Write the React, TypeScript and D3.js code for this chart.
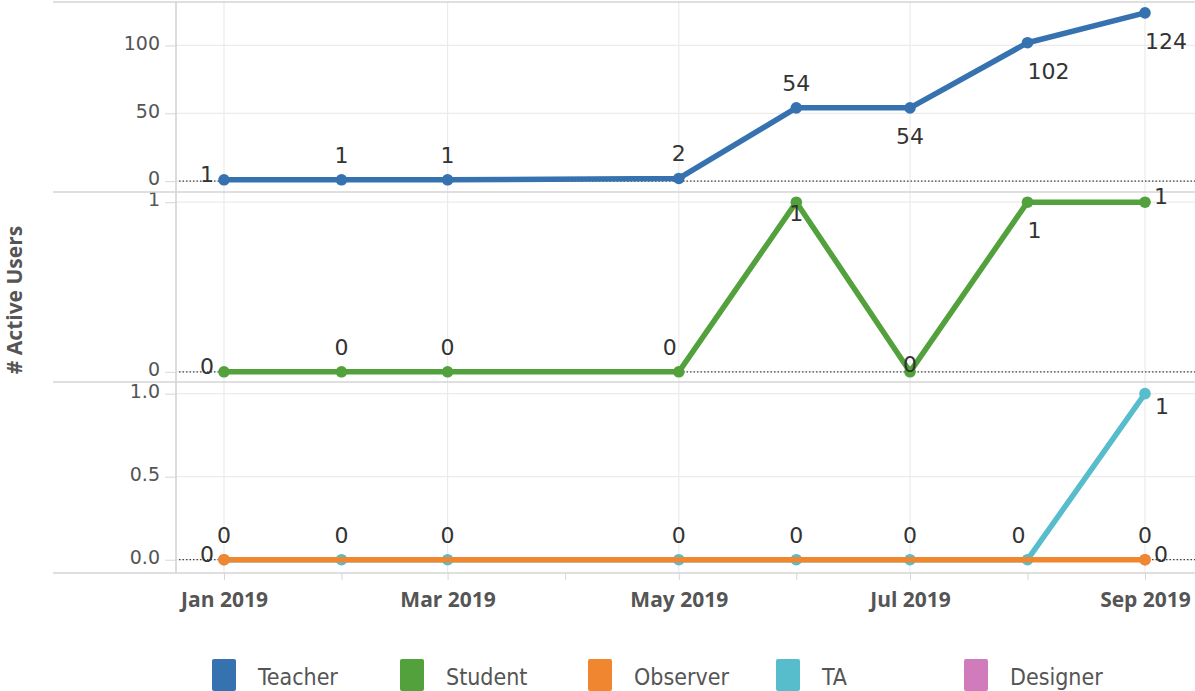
import React from 'react';
import { select, scaleLinear, scaleTime, line, axisLeft, axisBottom, timeMonth, timeFormat } from 'd3';

const months = ['2019-01', '2019-02', '2019-03', '2019-05', '2019-06', '2019-07', '2019-08', '2019-09'];
const teacher = [1, 1, 1, 2, 54, 54, 102, 124];
const student = [0, 0, 0, 0, 1, 0, 1, 1];
const ta = [0, 0, 0, 0, 0, 0, 0, 1];
const observerMonths = ['2019-01', '2019-09'];
const observer = [0, 0];
const designerMonths = ['2019-09'];
const designer = [0];

const roles = ['Teacher', 'Student', 'Observer', 'TA', 'Designer'];
const colors = ['#3672b0', '#52a13c', '#f0862f', '#57bccc', '#d07bbb'];

// where each value label sits relative to its point
const teacherLabelPos = ['left', 'above', 'above', 'above', 'above', 'below', 'belowRight', 'belowRight'];
const studentLabelPos = ['left', 'above', 'above', 'aboveLeft', 'onBelow', 'on', 'belowRight', 'right'];
const taLabelPos = ['above', 'above', 'above', 'above', 'above', 'above', 'aboveLeft', 'rightBelow'];
const observerLabelPos = ['left', 'right'];
const designerLabelPos = ['above'];

const panelTicks = [[0, 50, 100], [0, 1], [0, 0.5, 1]];
const panelDomains: [number, number][] = [[-8, 132], [-0.06, 1.06], [-0.08, 1.07]];
const panelFormats = ['d', 'd', '.1f'];
const xTickMonths = ['2019-01', '2019-03', '2019-05', '2019-07', '2019-09'];

const W = 1195;
const H = 691;
const left = 176;
const right = 1195;
const panelTop = [2, 192, 382];
const panelBottom = [192, 382, 573];

const numFont = '"DejaVu Sans", sans-serif';
const boldFont = '"Open Sans", "Noto Sans", sans-serif';

const parse = (s: string) => {
  const [y, m] = s.split('-').map(Number);
  return new Date(y, m - 1, 1);
};

const offsets: Record<string, [number, number, string]> = {
  above: [0, -17, 'middle'],
  aboveLeft: [-9, -17, 'middle'],
  below: [0, 36, 'middle'],
  belowRight: [0, 36, 'start'],
  left: [-10, 2, 'end'],
  right: [9, 2, 'start'],
  rightBelow: [10, 20, 'start'],
  on: [0, 0, 'middle'],
  onBelow: [0, 19, 'middle'],
};

const App: React.FC = () => {
  const svgRef = React.useRef<SVGSVGElement>(null);

  React.useEffect(() => {
    const svg = select(svgRef.current);
    svg.selectAll('*').remove();

    const x = scaleTime()
      .domain([parse('2019-01'), parse('2019-09')])
      .range([224, 1145]);

    const ys = panelDomains.map((d, i) =>
      scaleLinear().domain(d).range([panelBottom[i], panelTop[i]])
    );

    const grid = svg.append('g');
    // vertical gridlines
    grid
      .selectAll('line.vg')
      .data(xTickMonths.map(parse))
      .join('line')
      .attr('x1', d => x(d))
      .attr('x2', d => x(d))
      .attr('y1', panelTop[0])
      .attr('y2', panelBottom[2])
      .attr('stroke', '#ebebeb')
      .attr('stroke-width', 1.2);

    ys.forEach((y, i) => {
      grid
        .append('g')
        .selectAll('line')
        .data(panelTicks[i])
        .join('line')
        .attr('x1', left)
        .attr('x2', right)
        .attr('y1', d => y(d))
        .attr('y2', d => y(d))
        .attr('stroke', '#ebebeb')
        .attr('stroke-width', 1.2);

      const ax = axisLeft(y)
        .tickValues(panelTicks[i])
        .tickSize(11)
        .tickPadding(5)
        .tickFormat((d: any) => (panelFormats[i] === '.1f' ? (+d).toFixed(1) : String(d)));
      const g = svg
        .append('g')
        .attr('transform', `translate(${left},0)`)
        .call(ax as any);
      g.select('.domain').remove();
      g.selectAll('line').attr('stroke', '#d6d6d6');
      g.selectAll('text')
        .attr('fill', '#555')
        .attr('font-size', 19)
        .attr('dy', '0.2em')
        .attr('font-family', numFont);

      // dotted zero line
      svg
        .append('line')
        .attr('x1', left + 3)
        .attr('x2', right)
        .attr('y1', y(0))
        .attr('y2', y(0))
        .attr('stroke', '#444')
        .attr('stroke-width', 1.2)
        .attr('stroke-dasharray', '1.5,2');
    });

    // panel borders and axis line
    svg
      .append('g')
      .selectAll('line')
      .data([panelTop[0], panelBottom[0], panelBottom[1], panelBottom[2]])
      .join('line')
      .attr('x1', 53)
      .attr('x2', right)
      .attr('y1', d => d)
      .attr('y2', d => d)
      .attr('stroke', '#d4d4d4')
      .attr('stroke-width', 1.6);
    svg
      .append('line')
      .attr('x1', left)
      .attr('x2', left)
      .attr('y1', panelTop[0])
      .attr('y2', panelBottom[2])
      .attr('stroke', '#d4d4d4')
      .attr('stroke-width', 1.6);

    // x axis
    const xAxis = axisBottom(x)
      .ticks(timeMonth.every(1))
      .tickSize(7)
      .tickPadding(12)
      .tickFormat((d: any) => (d.getMonth() % 2 === 0 ? timeFormat('%b %Y')(d) : ''));
    const xg = svg
      .append('g')
      .attr('transform', `translate(0,${panelBottom[2]})`)
      .call(xAxis as any);
    xg.select('.domain').remove();
    xg.selectAll('line').attr('stroke', '#d6d6d6');
    xg.selectAll('text')
      .attr('fill', '#555')
      .attr('font-size', 21)
      .attr('font-weight', 'bold')
      .attr('font-family', boldFont);

    const series = [
      { months: designerMonths, values: designer, color: colors[4], panel: 2, pos: designerLabelPos },
      { months: months, values: ta, color: colors[3], panel: 2, pos: taLabelPos },
      { months: observerMonths, values: observer, color: colors[2], panel: 2, pos: observerLabelPos },
      { months: months, values: teacher, color: colors[0], panel: 0, pos: teacherLabelPos },
      { months: months, values: student, color: colors[1], panel: 1, pos: studentLabelPos },
    ];

    const labels = svg.append('g');
    series.forEach(s => {
      const y = ys[s.panel];
      const pts = s.values.map((v, i) => ({ d: parse(s.months[i]), v, pos: s.pos[i] }));
      const gen = line<{ d: Date; v: number }>()
        .x(p => x(p.d))
        .y(p => y(p.v));
      svg
        .append('path')
        .datum(pts)
        .attr('d', gen)
        .attr('fill', 'none')
        .attr('stroke', s.color)
        .attr('stroke-width', 5.5)
        .attr('stroke-linejoin', 'round');
      svg
        .append('g')
        .selectAll('circle')
        .data(pts)
        .join('circle')
        .attr('cx', p => x(p.d))
        .attr('cy', p => y(p.v))
        .attr('r', 5.8)
        .attr('fill', s.color);
      labels
        .append('g')
        .selectAll('text')
        .data(pts)
        .join('text')
        .attr('x', p => x(p.d) + offsets[p.pos][0])
        .attr('y', p => y(p.v) + offsets[p.pos][1])
        .attr('text-anchor', p => offsets[p.pos][2])
        .attr('font-size', 22)
        .attr('font-family', numFont)
        .attr('fill', '#333')
        .text(p => String(p.v));
    });
    labels.raise();

    // y axis title
    svg
      .append('text')
      .attr('transform', 'translate(22,300) rotate(-90)')
      .attr('text-anchor', 'middle')
      .attr('font-size', 21)
      .attr('font-weight', 'bold')
      .attr('font-family', boldFont)
      .attr('fill', '#555')
      .text('# Active Users');

    // legend
    const lg = svg
      .append('g')
      .selectAll('g')
      .data(roles)
      .join('g')
      .attr('transform', (_, i) => `translate(${212 + i * 188},659)`);
    lg.append('rect')
      .attr('width', 24)
      .attr('height', 32)
      .attr('rx', 2)
      .attr('fill', (_, i) => colors[i]);
    lg.append('text')
      .attr('x', 46)
      .attr('y', 26)
      .attr('font-size', 23)
      .attr('font-family', '"DejaVu Sans Condensed", "DejaVu Sans", sans-serif')
      .attr('fill', '#555')
      .text(d => d);
  }, []);

  return (
    <svg
      ref={svgRef}
      width={W}
      height={H}
      style={{ position: 'absolute', left: 0, top: 0, background: '#fff' }}
    />
  );
};

export default App;
